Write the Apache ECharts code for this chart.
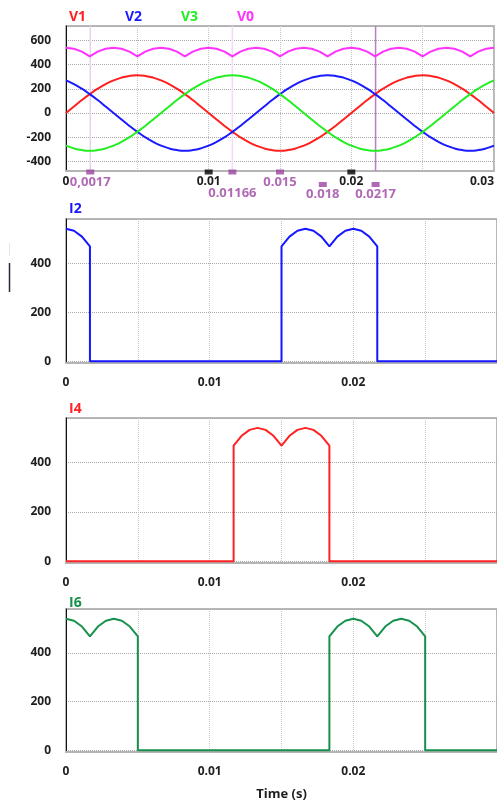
<!DOCTYPE html>
<html>
<head>
<meta charset="utf-8">
<script src="https://cdn.jsdelivr.net/npm/echarts@6/dist/echarts.min.js"></script>
<style>
  html, body { margin: 0; padding: 0; background: #ffffff; }
  #chart { width: 497px; height: 802px; }
</style>
</head>
<body>
<div id="chart"></div>
<script>
// Samples are taken every 10 electrical degrees of a 50 Hz supply
const SAMPLE_DT = 1 / 1800;

// Phase voltages (V)
const v1 = [0, 54, 107, 156, 201, 239, 270, 293, 307, 312, 307, 293, 270, 239, 201, 156, 107, 54,
  0, -54, -107, -156, -201, -239, -270, -293, -307, -312, -307, -293, -270, -239, -201, -156, -107, -54,
  0, 54, 107, 156, 201, 239, 270, 293, 307, 312, 307, 293, 270, 239, 201, 156, 107, 54, 0];
const v2 = [270, 239, 201, 156, 107, 54, 0, -54, -107, -156, -201, -239, -270, -293, -307, -312, -307, -293,
  -270, -239, -201, -156, -107, -54, 0, 54, 107, 156, 201, 239, 270, 293, 307, 312, 307, 293,
  270, 239, 201, 156, 107, 54, 0, -54, -107, -156, -201, -239, -270, -293, -307, -312, -307, -293, -270];
const v3 = [-270, -293, -307, -312, -307, -293, -270, -239, -201, -156, -107, -54, 0, 54, 107, 156, 201, 239,
  270, 293, 307, 312, 307, 293, 270, 239, 201, 156, 107, 54, 0, -54, -107, -156, -201, -239,
  -270, -293, -307, -312, -307, -293, -270, -239, -201, -156, -107, -54, 0, 54, 107, 156, 201, 239, 270];
// Rectified output voltage (V)
const v0 = [540, 532, 508, 468, 508, 532, 540, 532, 508, 468, 508, 532, 540, 532, 508, 468, 508, 532,
  540, 532, 508, 468, 508, 532, 540, 532, 508, 468, 508, 532, 540, 532, 508, 468, 508, 532,
  540, 532, 508, 468, 508, 532, 540, 532, 508, 468, 508, 532, 540, 532, 508, 468, 508, 532, 540];

// Thyristor currents (A) as [sample index, value]; repeated indices are the switching edges
const i2 = [[0, 540], [1, 532], [2, 508], [3, 468], [3, 0], [27, 0], [27, 468], [28, 508], [29, 532],
  [30, 540], [31, 532], [32, 508], [33, 468], [34, 508], [35, 532], [36, 540], [37, 532], [38, 508],
  [39, 468], [39, 0], [54, 0]];
const i4 = [[0, 0], [21, 0], [21, 468], [22, 508], [23, 532], [24, 540], [25, 532], [26, 508], [27, 468],
  [28, 508], [29, 532], [30, 540], [31, 532], [32, 508], [33, 468], [33, 0], [54, 0]];
const i6 = [[0, 540], [1, 532], [2, 508], [3, 468], [4, 508], [5, 532], [6, 540], [7, 532], [8, 508],
  [9, 468], [9, 0], [33, 0], [33, 468], [34, 508], [35, 532], [36, 540], [37, 532], [38, 508],
  [39, 468], [40, 508], [41, 532], [42, 540], [43, 532], [44, 508], [45, 468], [45, 0], [54, 0]];

// Time-axis labels
const xTickValues = [0, 0.01, 0.02, 0.03];
const xTickLabels = ['0', '0.01', '0.02', '0.03'];

// Cursor readouts on the voltage plot
const cursorTimes = [0.0017, 0.01166, 0.015, 0.018, 0.0217];
const cursorLabels = ['0,0017', '0.01166', '0.015', '0.018', '0.0217'];
const cursorMarkRow = [0, 0, 0, 1, 1];
const cursorLabelRow = [0, 1, 0, 1, 1];
// Cursors that carry a vertical hairline, with its colour
const hairlineTimes = [0.0017, 0.01166, 0.0217];
const hairlineColors = ['#ead2ee', '#eedcf1', '#b77fc2'];
const refTimes = [0.01, 0.02];

const FONT = '"Open Sans", Lato, sans-serif';
const PURPLE = '#9c45a3';
const C = {
  v1: '#ff1f1f', v2: '#1a1aff', v3: '#22ee22', v0: '#ff33ff',
  i2: '#1616ff', i4: '#ff2222', i6: '#17904c'
};
const Y_TOP = [-480, 720];

const toSeries = arr => arr.map((v, i) => [i * SAMPLE_DT, v]);
const toPairs = arr => arr.map(p => [p[0] * SAMPLE_DT, p[1]]);

const grids = [
  { left: 66, top: 26, width: 431.4, height: 145 },
  { left: 66, top: 219, width: 431.4, height: 144 },
  { left: 66, top: 418, width: 431.4, height: 145 },
  { left: 66, top: 609, width: 431.4, height: 147 }
].map(g => Object.assign(g, { show: true, borderColor: '#b8b8b8', borderWidth: 2, backgroundColor: 'transparent' }));

const tickFormatter = val => {
  const k = xTickValues.findIndex(t => Math.abs(t - val) < 1e-9);
  return k < 0 ? '' : xTickLabels[k];
};

function xAxisFor(idx, opts) {
  return Object.assign({
    type: 'value', gridIndex: idx, min: 0, max: 0.03, interval: 0.005,
    axisLine: { onZero: false, lineStyle: { color: '#b4b4b4', width: 2 } },
    axisTick: { show: false },
    splitLine: { show: true, lineStyle: { color: '#c4c4c4', type: 'dotted', width: 1 } },
    axisLabel: {
      color: '#1e1e1e', fontFamily: FONT, fontWeight: 'bold', fontSize: 12, margin: 14,
      hideOverlap: false, showMaxLabel: false, formatter: tickFormatter
    }
  }, opts || {});
}

function yAxisFor(idx, min, max, split) {
  return {
    type: 'value', gridIndex: idx, min: min, max: max, splitNumber: split,
    axisLine: { show: true, onZero: false, lineStyle: { color: '#111', width: 1 } },
    axisTick: { show: false },
    splitLine: { show: true, lineStyle: { color: '#a8a8a8', type: 'dotted', width: 1 } },
    axisLabel: {
      color: '#1e1e1e', fontFamily: FONT, fontWeight: 'bold', fontSize: 12, margin: 15,
      showMinLabel: false, showMaxLabel: false
    }
  };
}

function lineSeries(name, data, color, x, y, smooth) {
  return {
    name: name, type: 'line', xAxisIndex: x, yAxisIndex: y, data: data,
    showSymbol: false, symbol: 'none', smooth: smooth, animation: false,
    lineStyle: { color: color, width: 2 }, z: 3
  };
}

const hairlines = hairlineTimes.map((t, k) => ({
  name: 'cursor' + k, type: 'line', xAxisIndex: 0, yAxisIndex: 0, z: 2,
  data: [[t, Y_TOP[0]], [t, Y_TOP[1]]], showSymbol: false, symbol: 'none',
  itemStyle: { color: hairlineColors[k] },
  lineStyle: { color: hairlineColors[k], width: 1.5 }, silent: true, animation: false
}));

const cursorData = cursorTimes.map((t, k) => ({
  value: [t, Y_TOP[0]],
  symbolOffset: [0, 1 + cursorMarkRow[k] * 12.5],
  label: {
    formatter: cursorLabels[k],
    distance: (cursorLabelRow[k] === 1 && cursorMarkRow[k] === 0) ? 12 : 1
  }
}));

const titleStyle = color => ({ color: color, fontFamily: FONT, fontWeight: 'bold', fontSize: 14 });

const option = {
  backgroundColor: '#ffffff',
  animation: false,
  title: [
    { text: 'V1', left: 64, top: 5, textStyle: titleStyle(C.v1) },
    { text: 'V2', left: 120, top: 5, textStyle: titleStyle(C.v2) },
    { text: 'V3', left: 176, top: 5, textStyle: titleStyle(C.v3) },
    { text: 'V0', left: 232, top: 5, textStyle: titleStyle(C.v0) },
    { text: 'I2', left: 64, top: 197, textStyle: titleStyle(C.i2) },
    { text: 'I4', left: 64, top: 397, textStyle: titleStyle(C.i4) },
    { text: 'I6', left: 64, top: 591, textStyle: titleStyle(C.i6) }
  ],
  grid: grids,
  xAxis: [
    xAxisFor(0, {
      axisLabel: {
        color: '#1e1e1e', fontFamily: FONT, fontWeight: 'bold', fontSize: 12, margin: 5,
        hideOverlap: false, showMaxLabel: true, alignMaxLabel: 'right', formatter: tickFormatter
      }
    }),
    xAxisFor(1),
    xAxisFor(2),
    xAxisFor(3, {
      name: 'Time (s)', nameLocation: 'middle', nameGap: 36,
      nameTextStyle: { color: '#1e1e1e', fontFamily: FONT, fontWeight: 'bold', fontSize: 13 }
    })
  ],
  yAxis: [
    yAxisFor(0, Y_TOP[0], Y_TOP[1], 5),
    yAxisFor(1, -7, 580, 3),
    yAxisFor(2, -7, 580, 3),
    yAxisFor(3, -7, 580, 3)
  ],
  series: [
    ...hairlines,
    lineSeries('V0', toSeries(v0), C.v0, 0, 0, false),
    lineSeries('V1', toSeries(v1), C.v1, 0, 0, true),
    lineSeries('V2', toSeries(v2), C.v2, 0, 0, true),
    lineSeries('V3', toSeries(v3), C.v3, 0, 0, true),
    {
      name: 'cursors', type: 'scatter', xAxisIndex: 0, yAxisIndex: 0, clip: false, z: 5,
      symbol: 'rect', symbolSize: [8, 5], itemStyle: { color: PURPLE },
      label: {
        show: true, position: 'bottom', color: PURPLE,
        fontFamily: FONT, fontWeight: 'bold', fontSize: 13
      },
      data: cursorData
    },
    {
      name: 'refs', type: 'scatter', xAxisIndex: 0, yAxisIndex: 0, clip: false, z: 5,
      symbol: 'rect', symbolSize: [8, 5], symbolOffset: [0, 1], itemStyle: { color: '#000' },
      data: refTimes.map(t => [t, Y_TOP[0]])
    },
    lineSeries('I2', toPairs(i2), C.i2, 1, 1, false),
    lineSeries('I4', toPairs(i4), C.i4, 2, 2, false),
    lineSeries('I6', toPairs(i6), C.i6, 3, 3, false)
  ],
  graphic: [
    { type: 'line', shape: { x1: 9.5, y1: 263, x2: 9.5, y2: 292 }, style: { stroke: '#2a2a3a', lineWidth: 1.5 } },
    { type: 'line', shape: { x1: 9.5, y1: 243, x2: 9.5, y2: 256 }, style: { stroke: '#e4e4e4', lineWidth: 1 } }
  ]
};

const chart = echarts.init(document.getElementById('chart'), null, { renderer: 'canvas' });
chart.setOption(option);
</script>
</body>
</html>
